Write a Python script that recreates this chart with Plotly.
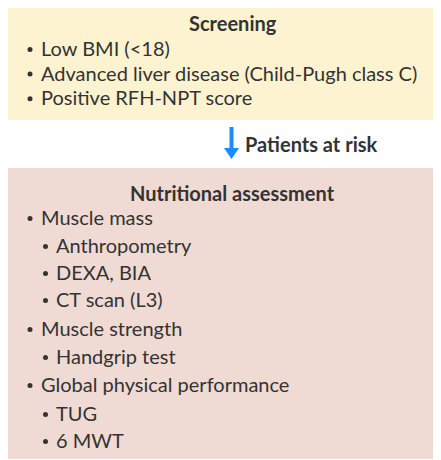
import plotly.graph_objects as go

screen_title = "Screening"
screen_items = ["Low BMI (<18)",
                "Advanced liver disease (Child-Pugh class C)",
                "Positive RFH-NPT score"]
arrow_label = "Patients at risk"
assess_title = "Nutritional assessment"
assess_items = [("Muscle mass", 0), ("Anthropometry", 1), ("DEXA, BIA", 1),
                ("CT scan (L3)", 1), ("Muscle strength", 0), ("Handgrip test", 1),
                ("Global physical performance", 0), ("TUG", 1), ("6 MWT", 1)]

W, H = 441, 460
OFF = 8  # page body margin
FONT = "Lato"
TXT = "#333333"
FS = 20

fig = go.Figure()
shapes = []
ann = []

shapes.append(dict(type="rect", x0=5, x1=441, y0=7, y1=120, fillcolor="#FDF3D0",
                   line=dict(width=0), layer="below"))
shapes.append(dict(type="rect", x0=5, x1=441, y0=168, y1=459, fillcolor="#EFDAD4",
                   line=dict(width=0), layer="below"))
shapes.append(dict(type="path",
                   path="M 229.5 127 L 233.5 127 L 233.5 148 L 239 148 L 231.5 159 L 224 148 L 229.5 148 Z",
                   fillcolor="#1A8CFF", line=dict(width=0)))


def add_text(x, y, s, bold=False, anchor="left", size=FS):
    ann.append(dict(x=x, y=y, text=f"<b>{s}</b>" if bold else s, showarrow=False,
                    xanchor=anchor, yanchor="middle", xref="x", yref="y",
                    font=dict(family=FONT, size=size, color=TXT)))


def add_bullet(x, y):
    r = 2.5
    shapes.append(dict(type="circle", x0=x - r, x1=x + r, y0=y - r, y1=y + r,
                       fillcolor=TXT, line=dict(width=0)))


add_text(232.5, 23, screen_title, bold=True, anchor="center")
y = 48
for s in screen_items:
    add_bullet(30, y + 1.5)
    add_text(38.5, y, s)
    y += 24.6

add_text(243, 144, arrow_label, bold=True)

add_text(232.5, 193, assess_title, bold=True, anchor="center")
ys = [217, 245, 272, 299, 328, 356, 384, 413, 440]
for (s, lvl), yy in zip(assess_items, ys):
    bx = 30 if lvl == 0 else 45.5
    tx = 38.5 if lvl == 0 else 54
    add_bullet(bx, yy + 1.5)
    add_text(tx, yy, s)

fig.update_layout(
    width=W - OFF, height=H - OFF, margin=dict(l=0, r=0, t=0, b=0),
    paper_bgcolor="white", plot_bgcolor="white",
    xaxis=dict(range=[OFF, W], visible=False, fixedrange=True),
    yaxis=dict(range=[H, OFF], visible=False, fixedrange=True),
    shapes=shapes, annotations=ann, showlegend=False,
)
fig.write_html("out.html", config={"displayModeBar": False})
